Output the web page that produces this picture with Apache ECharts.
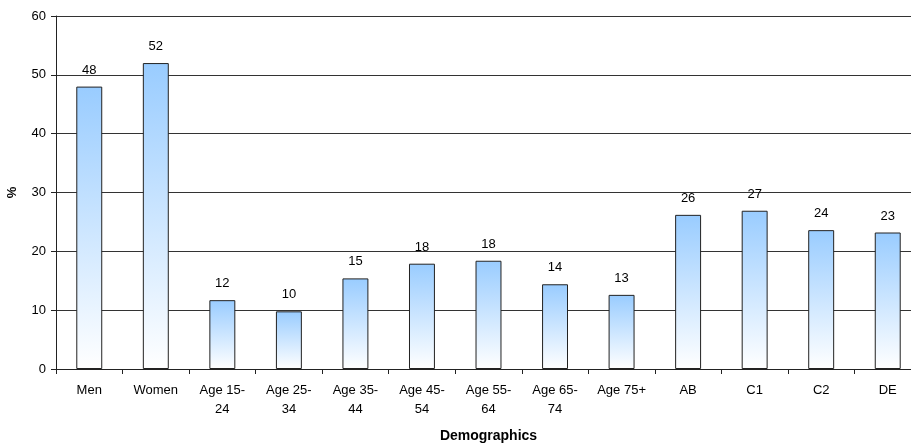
<!DOCTYPE html>
<html>
<head>
<meta charset="utf-8">
<script src="https://cdn.jsdelivr.net/npm/echarts@6/dist/echarts.min.js"></script>
<style>
  html, body { margin: 0; padding: 0; background: #fff; }
  #chart { width: 911px; height: 443px; }
</style>
</head>
<body>
<div id="chart"></div>
<script>
// data
var categories = ["Men", "Women", "Age 15-\n24", "Age 25-\n34", "Age 35-\n44", "Age 45-\n54",
  "Age 55-\n64", "Age 65-\n74", "Age 75+", "AB", "C1", "C2", "DE"];
var percent = [48, 52, 11.7, 9.8, 15.4, 17.9, 18.4, 14.4, 12.6, 26.2, 26.9, 23.6, 23.2];
var yTicks = [0, 10, 20, 30, 40, 50, 60];

var font = "'Liberation Sans', Arial, sans-serif";
var myChart = echarts.init(document.getElementById("chart"));

// the plot runs a little past the right edge of the picture
var option = {
  backgroundColor: "#fff",
  animation: false,
  grid: { left: 56, right: -10, top: 16, bottom: 74, outerBoundsMode: "none", containLabel: false },
  xAxis: {
    type: "category",
    data: categories,
    name: "Demographics",
    nameLocation: "middle",
    nameGap: 60,
    nameTextStyle: { fontFamily: font, fontSize: 14, fontWeight: "bold", color: "#000" },
    axisLine: { lineStyle: { color: "#222", width: 1 } },
    axisTick: { show: true, length: 5, inside: false, lineStyle: { color: "#222" } },
    axisLabel: {
      interval: 0,
      margin: 12,
      fontFamily: font,
      fontSize: 13,
      color: "#000",
      lineHeight: 19
    }
  },
  yAxis: {
    type: "value",
    min: yTicks[0],
    max: yTicks[yTicks.length - 1],
    interval: 10,
    name: "%",
    nameLocation: "middle",
    nameGap: 37,
    nameRotate: 90,
    nameTextStyle: { fontFamily: font, fontSize: 13, fontWeight: "bold", color: "#000" },
    axisLine: { show: true, lineStyle: { color: "#222", width: 1 } },
    axisTick: { show: true, length: 5, lineStyle: { color: "#222" } },
    axisLabel: { margin: 10, fontFamily: font, fontSize: 13, color: "#000" },
    splitLine: { show: true, lineStyle: { color: "#333", width: 1 } }
  },
  series: [
    {
      type: "bar",
      data: percent,
      barWidth: "39%",
      itemStyle: {
        color: new echarts.graphic.LinearGradient(0, 0, 0, 1, [
          { offset: 0, color: "#99ccff" },
          { offset: 1, color: "#ffffff" }
        ]),
        borderColor: "#222",
        borderWidth: 1
      },
      label: {
        show: true,
        position: "top",
        distance: 10,
        fontFamily: font,
        fontSize: 13,
        color: "#000",
        formatter: function (p) { return Math.round(p.value); }
      }
    }
  ]
};

myChart.setOption(option);
</script>
</body>
</html>
